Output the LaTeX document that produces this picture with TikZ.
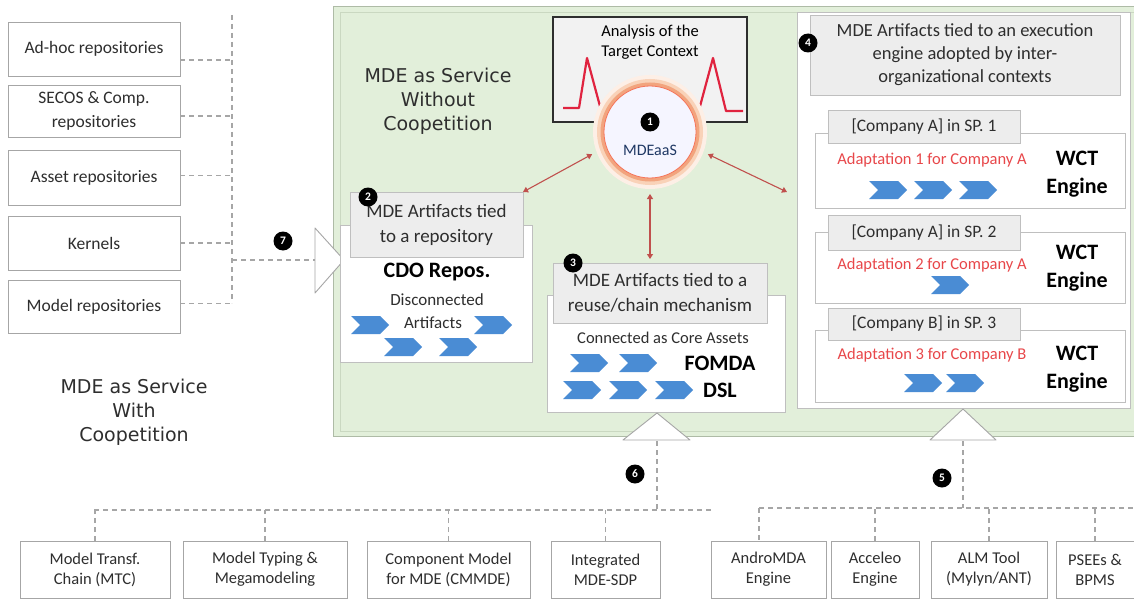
\documentclass[tikz,border=0pt]{standalone}
\usepackage{fontspec}
\setmainfont{Carlito}
\newfontfamily\titlefont{DejaVu Sans}
\usetikzlibrary{arrows.meta,calc}

\definecolor{greenbg}{HTML}{E2EFDA}
\definecolor{greenedge}{HTML}{AEBBA6}
\definecolor{greeninner}{HTML}{CAD8C1}
\definecolor{boxgray}{HTML}{A6A6A6}
\definecolor{hdredge}{HTML}{BFBFBF}
\definecolor{hdrfill}{HTML}{EDEDED}
\definecolor{chev}{HTML}{4A8CD4}
\definecolor{sigred}{HTML}{E0233F}
\definecolor{linkred}{HTML}{C0504D}
\definecolor{adapt}{HTML}{E8474A}
\definecolor{dashgray}{HTML}{A6A6A6}
\definecolor{txtgray}{HTML}{2E2E2E}
\definecolor{glowA}{HTML}{FDEFE6}
\definecolor{glowB}{HTML}{F9D2B8}
\definecolor{glowC}{HTML}{F2A47E}
\definecolor{aasblue}{HTML}{1F3864}

\tikzset{
  chevron/.pic={\fill[chev] (-19,-9) -- (10,-9) -- (19,0) -- (10,9) -- (-19,9) -- (-10,0) -- cycle;},
}

\begin{document}
\begin{tikzpicture}[x=1pt,y=-1pt,
  every node/.style={inner sep=0pt, outer sep=0pt, text=txtgray},
  repobox/.style={draw=boxgray, fill=white, line width=0.8pt, align=center,
    minimum width=172, font=\fontsize{17.5}{24}\selectfont},
  botbox/.style={draw=boxgray, fill=white, line width=0.8pt, align=center,
    minimum height=57, font=\fontsize{16.5}{20}\selectfont},
  hdrbox/.style={draw=hdredge, fill=hdrfill, line width=0.8pt, align=center},
  cardbox/.style={draw=hdredge, fill=white, line width=0.8pt},
  labelbox/.style={hdrbox, minimum width=192, font=\fontsize{17.5}{20}\selectfont},
  dashline/.style={draw=dashgray, line width=1.1pt, dash pattern=on 5pt off 4pt},
  badge/.style={circle, fill=black, minimum size=19, text=white,
    font=\bfseries\fontsize{11.5}{11.5}\selectfont},
  link/.style={draw=linkred, line width=1.1pt,
    {Triangle[length=5pt,width=6pt]}-{Triangle[length=5pt,width=6pt]}},
  wct/.style={font=\bfseries\fontsize{22}{28}\selectfont, align=center, text=black},
  adaptxt/.style={text=adapt, font=\fontsize{16.5}{20}\selectfont},
  title/.style={align=center, text=txtgray, font=\titlefont\fontsize{19}{24}\selectfont},
  tri/.style={draw=boxgray, fill=white, line width=0.9pt, line join=round},
]
\useasboundingbox (0,0) rectangle (1134,599);
\fill[white] (0,0) rectangle (1134,599);

% ---------- service area ----------
\draw[greenedge, fill=greenbg, line width=1pt] (333,7) rectangle (1145,436);
\draw[greeninner, line width=0.8pt] (340,12) rectangle (1145,431);

% ---------- repositories on the left ----------
\node[repobox, minimum height=54] (adhoc)  at (94,49)    {Ad-hoc repositories};
\node[repobox, minimum height=52] (secos)  at (94,111)   {SECOS \& Comp.\\repositories};
\node[repobox, minimum height=55] (asset)  at (94,177.5) {Asset repositories};
\node[repobox, minimum height=54] (kernel) at (94,243)   {Kernels};
\node[repobox, minimum height=53] (mrepo)  at (94,306.5) {Model repositories};

\coordinate (bustop) at (232,15);
\coordinate (busbot) at (232,303);
\draw[dashline] (bustop) -- (busbot);
\draw[dashline] ([yshift=-11pt]adhoc.east) -- ([yshift=-11pt]adhoc.east -| bustop);
\draw[dashline] ([yshift=-5pt]secos.east) -- ([yshift=-5pt]secos.east -| bustop);
\draw[dashline] ([yshift=2pt]asset.east) -- ([yshift=2pt]asset.east -| bustop);
\draw[dashline] (kernel.east) -- (kernel.east -| bustop);
\draw[dashline] ([yshift=3pt]mrepo.east) -- ([yshift=3pt]mrepo.east -| bustop);

% inflow triangle (7)
\coordinate (t7) at (315,260);
\draw[dashline] (bustop |- t7) -- (t7);
\draw[tri] (315,228) -- (344,260) -- (315,293) -- cycle;
\node[badge] (b7) at (283,241) {7};

% ---------- titles ----------
\node[title] (without) at (438,101) {MDE as Service\\Without\\Coopetition};
\node[title] (with) at (134,412) {MDE as Service\\With\\Coopetition};

% ---------- repository-bound artifacts (2) ----------
\node[cardbox, minimum width=192, minimum height=137] (cdocard) at (436,293.5) {};
\node[hdrbox, minimum width=173, minimum height=65, font=\fontsize{19}{25}\selectfont]
  (cdohdr) at (436.5,224.5) {MDE Artifacts tied\\to a repository};
\node[badge] (b2) at (368,197) {2};
\node[font=\bfseries\fontsize{22}{24}\selectfont, text=black] (cdo) at (437,272) {CDO Repos.};
\node[font=\fontsize{17}{22}\selectfont] (disc) at (437,300) {Disconnected};
\node[font=\fontsize{17}{22}\selectfont] (arts) at (433,323) {Artifacts};
\pic at (370,325) {chevron};
\pic at (493,325) {chevron};
\pic at (403,347) {chevron};
\pic at (458,347) {chevron};

% ---------- reuse / chain artifacts (3) ----------
\node[cardbox, minimum width=238, minimum height=117] (reusecard) at (666,353.5) {};
\node[hdrbox, minimum width=214, minimum height=60, font=\fontsize{19}{25}\selectfont]
  (reusehdr) at (660,293) {MDE Artifacts tied to a\\reuse/chain mechanism};
\node[badge] (b3) at (573,263) {3};
\node[font=\fontsize{16.5}{20}\selectfont] (core) at (663,338) {Connected as Core Assets};
\node[font=\bfseries\fontsize{22}{24}\selectfont, text=black] (fomda) at (720,363) {FOMDA};
\node[font=\bfseries\fontsize{22}{24}\selectfont, text=black] (dsl) at (720,390) {DSL};
\pic at (589,363) {chevron};
\pic at (638,363) {chevron};
\pic at (582,390) {chevron};
\pic at (628,390) {chevron};
\pic at (674,390) {chevron};

% ---------- engine-bound artifacts (4) ----------
\node[draw=hdredge, fill=white, line width=0.8pt, minimum width=333, minimum height=396]
  (rpanel) at (963.5,210) {};
\node[hdrbox, minimum width=310, minimum height=80, font=\fontsize{18.5}{23}\selectfont]
  (rhdr) at (965,55) {MDE Artifacts tied to an execution\\engine adopted by inter-\\organizational contexts};
\node[badge] (b4) at (808,43) {4};

\node[cardbox, minimum width=310, minimum height=75] (card1) at (970,170.5) {};
\node[labelbox, minimum height=33] (lab1) at (924,126.5) {[Company A] in SP. 1};
\node[adaptxt] (ad1) at (932,160) {Adaptation 1 for Company A};
\node[wct] (wct1) at (1077,174) {WCT\\Engine};
\pic at (888,190) {chevron};
\pic at (933,190) {chevron};
\pic at (978,190) {chevron};

\node[cardbox, minimum width=310, minimum height=71] (card2) at (970,267.5) {};
\node[labelbox, minimum height=35] (lab2) at (924,232.5) {[Company A] in SP. 2};
\node[adaptxt] (ad2) at (932,265) {Adaptation 2 for Company A};
\node[wct] (wct2) at (1077,268) {WCT\\Engine};
\pic at (950,285) {chevron};

\node[cardbox, minimum width=310, minimum height=72] (card3) at (970,366) {};
\node[labelbox, minimum height=32] (lab3) at (924,324) {[Company B] in SP. 3};
\node[adaptxt] (ad3) at (932,355) {Adaptation 3 for Company B};
\node[wct] (wct3) at (1077,369) {WCT\\Engine};
\pic at (923,383) {chevron};
\pic at (965,383) {chevron};

% ---------- analysis of the target context ----------
\node[draw=txtgray, fill=white!95!black, line width=1.3pt, minimum width=194, minimum height=105]
  (analysis) at (650,69.5) {};
\node[font=\fontsize{16.5}{20}\selectfont, align=center, text=black] (antext) at (650,42)
  {Analysis of the\\Target Context};
\draw[sigred, line width=2.2pt, line join=round] (563,108) -- (579,108) -- (587,58) -- (601,110);
\draw[sigred, line width=2.2pt, line join=round] (699,110) -- (713,58) -- (726,111) -- (743,111);

% ---------- MDEaaS hub (1) ----------
\fill[glowA] (650,132) circle (57pt);
\fill[glowB] (650,132) circle (53pt);
\fill[glowC] (650,132) circle (49.5pt);
\draw[fill=white!96!blue, draw=glowC!70!red, line width=0.8pt] (650,132) circle (46pt);
\node[circle, minimum size=124] (mdeaas) at (650,132) {};
\node[badge] (b1) at (650,122) {1};
\node[font=\fontsize{16}{18}\selectfont, text=aasblue] (aas) at (650,150) {MDEaaS};

\coordinate (rpin) at (787,192);
\draw[link] (mdeaas.201) -- (cdohdr.north east);
\draw[link, shorten >=4pt] (mdeaas.south) -- (mdeaas.south |- reusehdr.north);
\draw[link] (mdeaas.339) -- (rpin);

% ---------- outgoing triangles (5, 6) ----------
\draw[tri] (623,440) -- (657,413) -- (690,440) -- cycle;
\draw[tri] (930,440) -- (963,409) -- (996,440) -- cycle;
\coordinate (t6) at (657,441);
\coordinate (t5) at (963,441);

% ---------- platforms below ----------
\node[botbox, minimum width=150] (mtc)     at (95,569.5)    {Model Transf.\\Chain (MTC)};
\node[botbox, minimum width=164] (typing)  at (265,569.5)   {Model Typing \&\\Megamodeling};
\node[botbox, minimum width=163] (cmmde)   at (448.5,569.5) {Component Model\\for MDE (CMMDE)};
\node[botbox, minimum width=109] (sdp)     at (605.5,569.5) {Integrated\\MDE-SDP};
\node[botbox, minimum width=115] (andro)   at (768.5,569.5) {AndroMDA\\Engine};
\node[botbox, minimum width=88]  (acceleo) at (875,569.5)   {Acceleo\\Engine};
\node[botbox, minimum width=116] (alm)     at (989,569.5)   {ALM Tool\\(Mylyn/ANT)};
\node[botbox, minimum width=78]  (psee)    at (1095,569.5)  {PSEEs \&\\BPMS};

\coordinate (busL) at (94,510);
\coordinate (busLend) at (714,510);
\coordinate (busR) at (759,508);
\coordinate (busRend) at (1134,508);
\draw[dashline] (busL) -- (busLend);
\draw[dashline] (busR) -- (busRend);
\draw[dashline] (t6) -- (t6 |- busL);
\draw[dashline] (t5) -- (t5 |- busR);
\draw[dashline] (mtc.north) -- (mtc.north |- busL);
\draw[dashline] (typing.north) -- (typing.north |- busL);
\draw[dashline] (cmmde.north) -- (cmmde.north |- busL);
\draw[dashline] (sdp.north) -- (sdp.north |- busL);
\draw[dashline] (busR) -- (busR |- andro.north);
\draw[dashline] (acceleo.north) -- (acceleo.north |- busR);
\draw[dashline] (alm.north) -- (alm.north |- busR);
\draw[dashline] (psee.north) -- (psee.north |- busR);
\node[badge] (b6) at (635,474) {6};
\node[badge] (b5) at (942,478) {5};
\end{tikzpicture}
\end{document}
